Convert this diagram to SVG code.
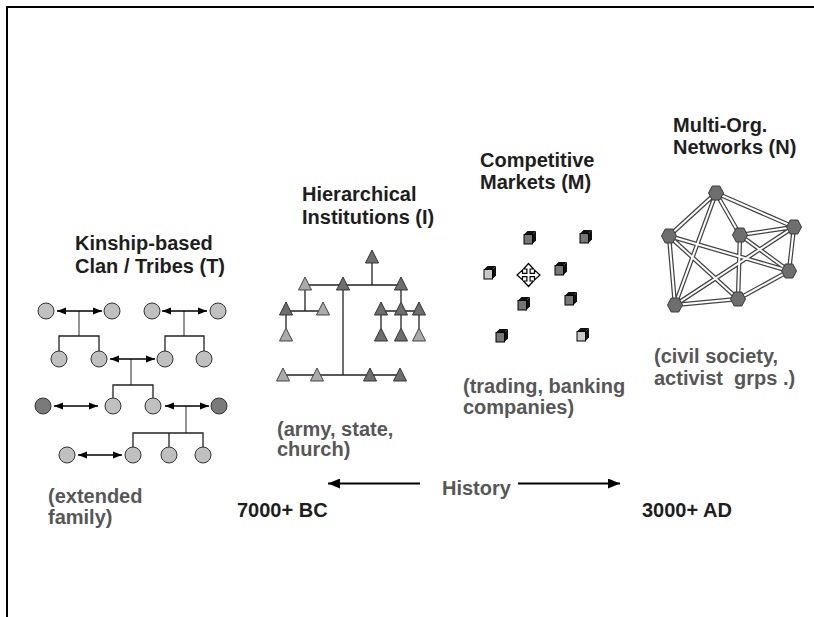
<svg xmlns="http://www.w3.org/2000/svg" width="814" height="617" viewBox="0 0 814 617">
<defs>
<style>
.t{font-family:"Liberation Sans",Arial,sans-serif;font-weight:bold;font-size:20px;fill:#1e1e1e}
.g{font-family:"Liberation Sans",Arial,sans-serif;font-weight:bold;font-size:20px;fill:#575757}
.cl{fill:#c0c0c0;stroke:#333;stroke-width:1}
.cd{fill:#7a7a7a;stroke:#333;stroke-width:1}
.ar{stroke:#000;stroke-width:1.5;fill:none;marker-start:url(#ah);marker-end:url(#ah)}
.stem{stroke:#7a7a7a;stroke-width:1.6;fill:none}
.br{stroke:#222;stroke-width:1.3;fill:none}
.tl{fill:#ababab;stroke:#444;stroke-width:1}
.td{fill:#6e6e6e;stroke:#333;stroke-width:1}
.hl{stroke:#222;stroke-width:1.3;fill:none}
.cf{stroke:#000;stroke-width:1}
.ct{fill:#111}
.eo{stroke:#444;stroke-width:4.5;fill:none}
.ei{stroke:#fff;stroke-width:2;fill:none}
.hx{fill:#6e6e6e;stroke:#3a3a3a;stroke-width:1}
.ha{stroke:#000;stroke-width:2;fill:none}
</style>
<marker id="ah" viewBox="0 0 10 8" refX="10" refY="4" markerWidth="9" markerHeight="7.5" markerUnits="userSpaceOnUse" orient="auto-start-reverse">
<path d="M0,0 L10,4 L0,8 z" fill="#000"/>
</marker>
<marker id="bh" viewBox="0 0 12 10" refX="12" refY="5" markerWidth="12" markerHeight="10" markerUnits="userSpaceOnUse" orient="auto">
<path d="M0,0 L12,5 L0,10 z" fill="#000"/>
</marker>
<polygon id="tri" points="0,-7 6.5,6 -6.5,6"/>
<g id="cube">
<polygon points="0,3.5 3.5,0 12,0 8.5,3.5" class="ct"/>
<polygon points="8.5,3.5 12,0 12,9.5 8.5,13" class="ct"/>
<rect x="0" y="3.5" width="8.5" height="9.5" class="cf"/>
</g>
<polygon id="hex" points="-7.5,0 -3.8,-7 3.8,-7 7.5,0 3.8,7 -3.8,7"/>
</defs>
<rect width="814" height="617" fill="#fff"/>
<g id="frame">
<line x1="6" y1="7" x2="814" y2="7" stroke="#000" stroke-width="2"/>
<line x1="7" y1="6" x2="7" y2="617" stroke="#000" stroke-width="2"/>
</g>

<!-- Kinship -->
<g id="kinship">
<text class="t" x="75" y="250">Kinship-based</text>
<text class="t" x="75" y="273">Clan / Tribes (T)</text>
<g id="kinship-lines">
<path class="stem" d="M79,311 V336 M184,311 V336 M131,359 V385 M186,406 V433"/>
<path class="br" d="M59,351 V336 H99 V351 M165,351 V336 H204 V351 M113,398 V385 H153 V398 M133,447 V433 H203 V447 M169,433 V447"/>
<line class="ar" x1="57" y1="311" x2="102" y2="311"/>
<line class="ar" x1="162" y1="311" x2="207" y2="311"/>
<line class="ar" x1="110" y1="359" x2="155" y2="359"/>
<line class="ar" x1="54" y1="406" x2="98" y2="406"/>
<line class="ar" x1="165" y1="406" x2="209" y2="406"/>
<line class="ar" x1="78" y1="455" x2="122" y2="455"/>
</g>
<circle class="cl" cx="46" cy="311" r="8"/>
<circle class="cl" cx="112" cy="311" r="8"/>
<circle class="cl" cx="152" cy="311" r="8"/>
<circle class="cl" cx="218" cy="311" r="8"/>
<circle class="cl" cx="59" cy="359" r="8"/>
<circle class="cl" cx="99" cy="359" r="8"/>
<circle class="cl" cx="165" cy="359" r="8"/>
<circle class="cl" cx="204" cy="359" r="8"/>
<circle class="cd" cx="43" cy="406" r="8"/>
<circle class="cl" cx="113" cy="406" r="8"/>
<circle class="cl" cx="153" cy="406" r="8"/>
<circle class="cd" cx="219" cy="406" r="8"/>
<circle class="cl" cx="67" cy="455" r="8"/>
<circle class="cl" cx="133" cy="455" r="8"/>
<circle class="cl" cx="169" cy="455" r="8"/>
<circle class="cl" cx="203" cy="455" r="8"/>
<text class="g" x="48" y="503">(extended</text>
<text class="g" x="48" y="524">family)</text>
</g>

<!-- Hierarchical -->
<g id="hierarchical">
<text class="t" x="302" y="201">Hierarchical</text>
<text class="t" x="302" y="224">Institutions (I)</text>
<path class="hl" d="M372,263 V285 M305,285 H401 M305,290 V311 M286,311 H323 M286,315 V328 M343,290 V375 M283,375 H400 M401,290 V302 M381,311 H419 M381,315 V328 M401,315 V328 M419,315 V328"/>
<use href="#tri" class="td" x="372" y="257"/>
<use href="#tri" class="tl" x="305" y="284"/>
<use href="#tri" class="td" x="343" y="284"/>
<use href="#tri" class="td" x="401" y="284"/>
<use href="#tri" class="td" x="286" y="309"/>
<use href="#tri" class="tl" x="323" y="309"/>
<use href="#tri" class="td" x="381" y="309"/>
<use href="#tri" class="td" x="401" y="309"/>
<use href="#tri" class="td" x="419" y="309"/>
<use href="#tri" class="tl" x="286" y="335"/>
<use href="#tri" class="td" x="381" y="335"/>
<use href="#tri" class="td" x="401" y="335"/>
<use href="#tri" class="tl" x="419" y="335"/>
<use href="#tri" class="tl" x="283" y="375"/>
<use href="#tri" class="tl" x="317" y="375"/>
<use href="#tri" class="td" x="370" y="375"/>
<use href="#tri" class="td" x="400" y="375"/>
<text class="g" x="277" y="436">(army, state,</text>
<text class="g" x="277" y="456">church)</text>
</g>

<!-- Markets -->
<g id="markets">
<text class="t" x="480" y="167">Competitive</text>
<text class="t" x="480" y="189">Markets (M)</text>
<use href="#cube" x="524" y="231" fill="#777"/>
<use href="#cube" x="580" y="230" fill="#777"/>
<use href="#cube" x="484" y="266" fill="#c8c8c8"/>
<use href="#cube" x="555" y="262" fill="#777"/>
<use href="#cube" x="518" y="297" fill="#777"/>
<use href="#cube" x="565" y="292" fill="#777"/>
<use href="#cube" x="496" y="329" fill="#777"/>
<use href="#cube" x="577" y="328" fill="#c8c8c8"/>
<polygon transform="translate(528.5,275)" fill="#fff" stroke="#000" stroke-width="1.2" points="0,-11.5 5,-6 1.6,-6 1.6,-1.6 6,-1.6 6,-5 11.5,0 6,5 6,1.6 1.6,1.6 1.6,6 5,6 0,11.5 -5,6 -1.6,6 -1.6,1.6 -6,1.6 -6,5 -11.5,0 -6,-5 -6,-1.6 -1.6,-1.6 -1.6,-6 -5,-6"/>
<text class="g" x="463" y="393">(trading, banking</text>
<text class="g" x="463" y="414">companies)</text>
</g>

<!-- Networks -->
<g id="networks">
<text class="t" x="673" y="132">Multi-Org.</text>
<text class="t" x="673" y="154">Networks (N)</text>
<g id="network-edges">
<path class="eo" d="M716,193 L794,227 M716,193 L740,235 M716,193 L669,236 M716,193 L675,305 M669,236 L675,305 M669,236 L789,271 M669,236 L738,299 M740,235 L794,227 M740,235 L789,271 M740,235 L738,299 M794,227 L789,271 M794,227 L675,305 M789,271 L738,299 M675,305 L738,299"/>
<path class="ei" d="M716,193 L794,227 M716,193 L740,235 M716,193 L669,236 M716,193 L675,305 M669,236 L675,305 M669,236 L789,271 M669,236 L738,299 M740,235 L794,227 M740,235 L789,271 M740,235 L738,299 M794,227 L789,271 M794,227 L675,305 M789,271 L738,299 M675,305 L738,299"/>
</g>
<use href="#hex" class="hx" x="716" y="193"/>
<use href="#hex" class="hx" x="669" y="236"/>
<use href="#hex" class="hx" x="740" y="235"/>
<use href="#hex" class="hx" x="794" y="227"/>
<use href="#hex" class="hx" x="789" y="271"/>
<use href="#hex" class="hx" x="675" y="305"/>
<use href="#hex" class="hx" x="738" y="299"/>
<text class="g" x="654" y="363">(civil society,</text>
<text class="g" x="654" y="385" xml:space="preserve">activist  grps .)</text>
</g>

<!-- History axis -->
<g id="history">
<line class="ha" x1="420" y1="483.5" x2="328" y2="483.5" marker-end="url(#bh)"/>
<line class="ha" x1="518" y1="483.5" x2="620" y2="483.5" marker-end="url(#bh)"/>
<text class="g" x="442" y="495">History</text>
<text class="t" x="237" y="517">7000+ BC</text>
<text class="t" x="642" y="517">3000+ AD</text>
</g>
</svg>
